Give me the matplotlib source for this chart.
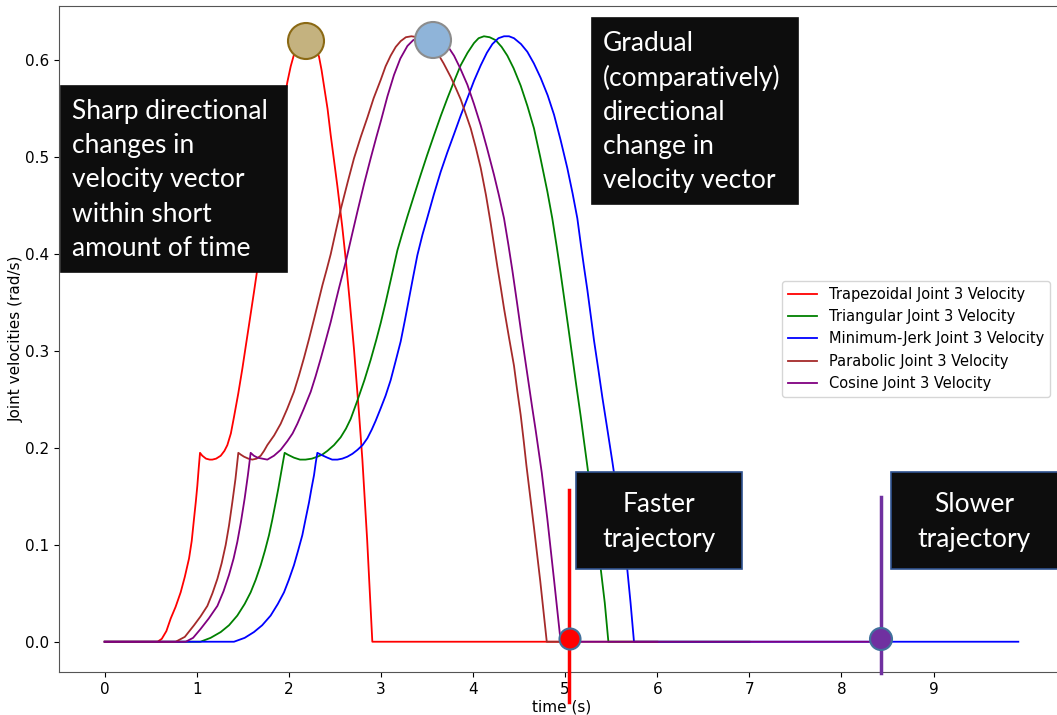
import matplotlib.pyplot as plt
from matplotlib.patches import Rectangle, Ellipse

W, H = 1057, 715

# tempos e velocidades
t_trap = [0, 0.575, 0.62, 0.67, 0.717, 0.77, 0.825, 0.87, 0.916, 0.945, 0.97, 0.99, 1.006, 1.02,
          1.035, 1.06, 1.10, 1.14, 1.169, 1.21, 1.26, 1.30, 1.332, 1.37, 1.404, 1.45, 1.495, 1.53,
          1.567, 1.621, 1.658, 1.70, 1.75, 1.80, 1.85, 1.90, 1.95, 1.984, 2.02, 2.055, 2.09, 2.128,
          2.16, 2.193, 2.225, 2.26, 2.29, 2.327, 2.355, 2.381, 2.42, 2.454, 2.49, 2.527, 2.58, 2.617,
          2.66, 2.707, 2.762, 2.798, 2.85, 2.906, 5.05]
v_trap = [0, 0, 0.003, 0.011, 0.024, 0.036, 0.051, 0.067, 0.086, 0.104, 0.127, 0.145, 0.161, 0.178,
          0.195, 0.192, 0.189, 0.188, 0.188, 0.189, 0.192, 0.197, 0.203, 0.215, 0.232, 0.256, 0.282, 0.304,
          0.327, 0.361, 0.385, 0.412, 0.445, 0.477, 0.507, 0.535, 0.560, 0.578, 0.594, 0.606, 0.615, 0.621,
          0.624, 0.625, 0.624, 0.620, 0.613, 0.604, 0.590, 0.574, 0.550, 0.523, 0.497, 0.470, 0.428, 0.395,
          0.352, 0.302, 0.235, 0.188, 0.105, 0, 0]

t_tri = [0, 1.04, 1.15, 1.26, 1.35, 1.44, 1.52, 1.585, 1.64, 1.694, 1.74, 1.784, 1.82, 1.857, 1.885,
         1.911, 1.935, 1.954, 1.99, 2.055, 2.12, 2.18, 2.25, 2.309, 2.36, 2.418, 2.49, 2.562, 2.62,
         2.671, 2.744, 2.82, 2.888, 2.95, 2.997, 3.05, 3.105, 3.178, 3.23, 3.287, 3.36, 3.431, 3.50,
         3.576, 3.65, 3.721, 3.80, 3.865, 3.94, 4.01, 4.06, 4.118, 4.18, 4.245, 4.31, 4.372, 4.44,
         4.517, 4.59, 4.661, 4.73, 4.806, 4.86, 4.908, 4.95, 4.987, 5.03, 5.078, 5.12, 5.168, 5.20,
         5.241, 5.30, 5.34, 5.385, 5.43, 5.469, 7.0]
v_tri = [0, 0, 0.004, 0.010, 0.017, 0.027, 0.039, 0.051, 0.064, 0.079, 0.094, 0.110, 0.126, 0.144, 0.158,
         0.172, 0.185, 0.195, 0.193, 0.190, 0.188, 0.188, 0.189, 0.191, 0.193, 0.197, 0.203, 0.211, 0.220,
         0.230, 0.249, 0.270, 0.291, 0.312, 0.329, 0.350, 0.373, 0.404, 0.421, 0.439, 0.461, 0.482, 0.502,
         0.523, 0.543, 0.561, 0.580, 0.595, 0.608, 0.618, 0.623, 0.625, 0.624, 0.621, 0.614, 0.605, 0.592,
         0.574, 0.553, 0.530, 0.500, 0.465, 0.437, 0.408, 0.381, 0.356, 0.327, 0.294, 0.265, 0.233, 0.210,
         0.181, 0.138, 0.109, 0.076, 0.040, 0, 0]

t_mj = [0, 1.404, 1.52, 1.621, 1.71, 1.802, 1.88, 1.947, 2.00, 2.055, 2.10, 2.146, 2.18, 2.219, 2.245,
        2.273, 2.292, 2.309, 2.35, 2.418, 2.47, 2.527, 2.58, 2.635, 2.69, 2.744, 2.80, 2.852, 2.90, 2.942,
        2.997, 3.05, 3.105, 3.16, 3.214, 3.26, 3.304, 3.35, 3.395, 3.45, 3.504, 3.575, 3.648, 3.72, 3.793,
        3.865, 3.938, 4.01, 4.083, 4.15, 4.21, 4.275, 4.336, 4.39, 4.444, 4.52, 4.589, 4.66, 4.734, 4.81,
        4.879, 4.95, 5.023, 5.08, 5.132, 5.17, 5.204, 5.241, 5.28, 5.313, 5.36, 5.404, 5.46, 5.512, 5.56,
        5.62, 5.674, 5.71, 5.747, 9.92]
v_mj = [0, 0, 0.004, 0.010, 0.017, 0.027, 0.039, 0.051, 0.064, 0.079, 0.094, 0.110, 0.126, 0.144, 0.158,
        0.172, 0.185, 0.195, 0.193, 0.190, 0.188, 0.188, 0.189, 0.191, 0.194, 0.198, 0.203, 0.210, 0.219,
        0.228, 0.241, 0.254, 0.270, 0.290, 0.310, 0.332, 0.354, 0.377, 0.399, 0.420, 0.438, 0.462, 0.485,
        0.505, 0.524, 0.543, 0.561, 0.579, 0.595, 0.608, 0.617, 0.623, 0.625, 0.625, 0.623, 0.617, 0.609,
        0.597, 0.582, 0.564, 0.544, 0.518, 0.489, 0.463, 0.437, 0.410, 0.387, 0.363, 0.335, 0.311, 0.281,
        0.252, 0.218, 0.186, 0.155, 0.113, 0.075, 0.040, 0, 0]

t_par = [0, 0.771, 0.87, 0.97, 1.04, 1.115, 1.17, 1.224, 1.27, 1.314, 1.35, 1.386, 1.42, 1.451, 1.48,
         1.513, 1.56, 1.603, 1.65, 1.694, 1.73, 1.766, 1.84, 1.911, 1.98, 2.055, 2.11, 2.164, 2.22, 2.273,
         2.32, 2.364, 2.41, 2.454, 2.51, 2.562, 2.64, 2.707, 2.78, 2.852, 2.92, 2.997, 3.05, 3.105, 3.16,
         3.214, 3.27, 3.33, 3.40, 3.467, 3.54, 3.612, 3.68, 3.757, 3.81, 3.865, 3.92, 3.974, 4.03, 4.083,
         4.14, 4.191, 4.23, 4.264, 4.30, 4.336, 4.39, 4.444, 4.48, 4.517, 4.55, 4.579, 4.62, 4.661, 4.73,
         4.8, 6.0]
v_par = [0, 0, 0.005, 0.017, 0.026, 0.037, 0.050, 0.065, 0.081, 0.100, 0.120, 0.144, 0.168, 0.195, 0.193,
         0.191, 0.189, 0.188, 0.189, 0.192, 0.197, 0.203, 0.213, 0.225, 0.240, 0.258, 0.275, 0.293, 0.313,
         0.333, 0.351, 0.368, 0.384, 0.400, 0.424, 0.446, 0.475, 0.499, 0.521, 0.541, 0.561, 0.580, 0.594,
         0.605, 0.614, 0.620, 0.624, 0.625, 0.624, 0.621, 0.616, 0.608, 0.597, 0.583, 0.572, 0.560, 0.545,
         0.530, 0.510, 0.489, 0.461, 0.432, 0.408, 0.387, 0.366, 0.344, 0.314, 0.285, 0.259, 0.234, 0.207,
         0.182, 0.150, 0.118, 0.062, 0, 0]

t_cos = [0, 0.88, 0.96, 1.04, 1.13, 1.224, 1.29, 1.35, 1.40, 1.44, 1.48, 1.52, 1.555, 1.585, 1.62, 1.66,
         1.712, 1.766, 1.838, 1.91, 1.983, 2.04, 2.092, 2.16, 2.237, 2.29, 2.345, 2.40, 2.454, 2.50, 2.544,
         2.617, 2.68, 2.744, 2.82, 2.888, 2.95, 3.0, 3.07, 3.141, 3.21, 3.287, 3.35, 3.413, 3.48, 3.54,
         3.60, 3.667, 3.73, 3.793, 3.86, 3.938, 4.01, 4.083, 4.15, 4.227, 4.28, 4.336, 4.383, 4.427, 4.48,
         4.53, 4.589, 4.64, 4.68, 4.745, 4.806, 4.88, 4.951, 8.42]
v_cos = [0, 0, 0.004, 0.013, 0.024, 0.037, 0.052, 0.069, 0.086, 0.103, 0.124, 0.148, 0.172, 0.195, 0.192,
         0.190, 0.189, 0.188, 0.192, 0.198, 0.207, 0.215, 0.225, 0.240, 0.258, 0.274, 0.292, 0.311, 0.330,
         0.348, 0.365, 0.392, 0.418, 0.444, 0.474, 0.499, 0.521, 0.538, 0.563, 0.585, 0.602, 0.615, 0.621,
         0.624, 0.625, 0.625, 0.624, 0.620, 0.614, 0.605, 0.592, 0.575, 0.555, 0.533, 0.510, 0.482, 0.461,
         0.437, 0.410, 0.383, 0.348, 0.314, 0.276, 0.243, 0.218, 0.175, 0.127, 0.063, 0, 0]

series = [
    (t_trap, v_trap, 'Trapezoidal Joint 3 Velocity', 'red'),
    (t_tri, v_tri, 'Triangular Joint 3 Velocity', 'green'),
    (t_mj, v_mj, 'Minimum-Jerk Joint 3 Velocity', 'blue'),
    (t_par, v_par, 'Parabolic Joint 3 Velocity', 'brown'),
    (t_cos, v_cos, 'Cosine Joint 3 Velocity', 'purple'),
]

fig = plt.figure(figsize=(W / 100, H / 100), dpi=100)
ax = fig.add_axes([59 / W, 43 / H, 1005 / W, 666 / H])

for t, v, nome, cor in series:
    ax.plot(t, v, color=cor, lw=1.3, label=nome)

ax.set_xticks(range(10))
ax.tick_params(labelsize=11)
ax.set_xlabel('time (s)', fontsize=11, labelpad=2)
ax.set_ylabel('Joint velocities (rad/s)', fontsize=11, labelpad=1)
for s in ax.spines.values():
    s.set_color('#555555')
ax.legend(loc='center right', bbox_to_anchor=(0.986, 0.5), borderaxespad=0, fontsize=10.5)


def fx(x):
    return x / W


def fy(y):
    return 1 - y / H


# anotacoes por cima do grafico (coordenadas em pixels da imagem)
def caixa(x0, y0, x1, y1, borda):
    fig.patches.append(Rectangle((fx(x0), fy(y1)), fx(x1 - x0), (y1 - y0) / H,
                                 transform=fig.transFigure, facecolor='#0d0d0d',
                                 edgecolor=borda, lw=1.2, zorder=10))


def circulo(x, y, r, face, borda, lw=1.5):
    fig.patches.append(Ellipse((fx(x), fy(y)), 2 * r / W, 2 * r / H, transform=fig.transFigure,
                               facecolor=face, edgecolor=borda, lw=lw, zorder=10))


fonte = 'Lato'
esp = 1.45
caixa(61, 86, 287, 272, '#0d0d0d')
fig.text(fx(72), fy(180), 'Sharp directional\nchanges in\nvelocity vector\nwithin short\namount of time',
         color='white', fontsize=19, family=fonte, va='center', ha='left', linespacing=esp, zorder=11)
caixa(592, 18, 798, 204, '#0d0d0d')
fig.text(fx(603), fy(112), 'Gradual\n(comparatively)\ndirectional\nchange in\nvelocity vector',
         color='white', fontsize=19, family=fonte, va='center', ha='left', linespacing=esp, zorder=11)
caixa(576, 472, 742, 569, '#2f528f')
fig.text(fx(659), fy(522), 'Faster\ntrajectory', color='white', fontsize=19, family=fonte,
         va='center', ha='center', linespacing=esp, zorder=11)
caixa(891, 472, 1070, 569, '#2f528f')
fig.text(fx(974), fy(522), 'Slower\ntrajectory', color='white', fontsize=19, family=fonte,
         va='center', ha='center', linespacing=esp, zorder=11)

fig.lines.append(plt.Line2D([fx(569), fx(569)], [fy(490), fy(702)], transform=fig.transFigure,
                            color='#ff0000', lw=2.5, zorder=9))
fig.lines.append(plt.Line2D([fx(881), fx(881)], [fy(497), fy(673)], transform=fig.transFigure,
                            color='#7030a0', lw=2.5, zorder=9))

circulo(306, 41, 18, '#c4b27f', '#8b6914')
circulo(433, 40, 18, '#8fb4d9', '#8c8c8c')
circulo(570, 639, 10.5, '#ff0000', '#41719c')
circulo(881, 639, 11, '#7030a0', '#41719c')

fig.savefig('out.png', dpi=100)
